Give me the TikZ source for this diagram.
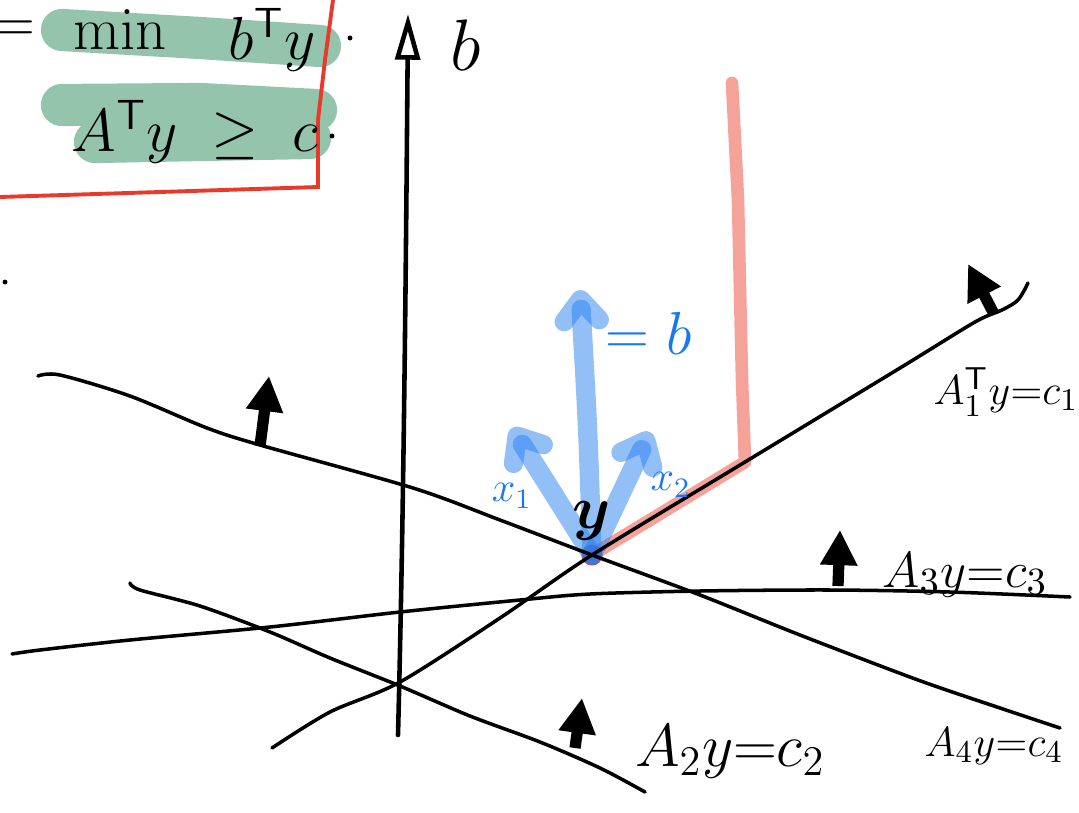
\documentclass[tikz,border=0pt]{standalone}
\usepackage{amsmath,amssymb}
\usepackage{tikz}
\usetikzlibrary{positioning,arrows.meta}

\definecolor{hlgreen}{RGB}{148,196,172}
\definecolor{boxred}{RGB}{232,57,42}
\definecolor{pathred}{RGB}{238,100,88}
\definecolor{vecblue}{RGB}{40,128,240}
\definecolor{inkblue}{RGB}{25,120,240}

\begin{document}
\begin{tikzpicture}[x=0.01cm, y=-0.01cm, >=Latex,
  hand/.style={line width=1pt, line cap=round, line join=round},
  upnormal/.style={line width=3.2pt, -{Triangle[length=10pt, width=10pt]}},
  vecarr/.style={draw=vecblue, draw opacity=0.5, line width=5.5pt, line cap=round,
                 -{Straight Barb[round, length=6pt, width=10pt]}},
  hilite/.style={draw=hlgreen, line width=12pt, line cap=round},
  lbl/.style={inner sep=0pt, font=\fontsize{17}{20}\selectfont},
  bluelbl/.style={inner sep=0pt, text=inkblue, font=\fontsize{12}{14}\selectfont}]
  \useasboundingbox (0,0) rectangle (1079,812);

  % dual problem in the red box
  \draw[hilite] (62,30) -- (200,38) -- (320,46);
  \draw[hilite] (62,105) -- (200,104) -- (316,110);
  \draw[hilite] (95,142) -- (200,140) -- (310,138);
  \draw[boxred, line width=1.1pt] (0,197) -- (160,192) -- (318,187)
    -- (318,120) -- (325,60) -- (333,0);
  \node (eq)   [lbl] at (13,32) {$=$};
  \node (mn)   [lbl] at (120,30) {$\min$};
  \node (obj)  [lbl] at (272,40) {$b^{\mathsf T}y$};
  \node (cons) [lbl] at (195,132) {$A^{\mathsf T}y\;\geq\;c$};
  \fill (350,38) circle (0.7pt);
  \fill (332,136) circle (0.7pt);
  \fill (5,282) circle (0.7pt);

  \coordinate (ypt) at (592,555);
  \coordinate (kink) at (745,462);
  \coordinate (ptop) at (732,83);
  \coordinate (xonetip) at (512,428);
  \coordinate (btip) at (580,290);
  \coordinate (xtwotip) at (650,432);
  \coordinate (axbot) at (398,735);
  \coordinate (axtop) at (408,14);

  % path to the top, and the vectors at y
  \draw[pathred, draw opacity=0.6, line width=3.6pt, line cap=round, line join=round]
    (ypt) -- (650,520) -- (kink) -- (742,380) -- (738,200) -- (ptop);
  \fill[red!70!black, opacity=0.7] (ypt) circle (3pt);
  \draw[vecarr] (ypt) -- (xonetip);
  \draw[vecarr] (ypt) .. controls (588,430) .. (btip);
  \draw[vecarr] (ypt) -- (xtwotip);

  % axis b
  \draw[hand, line width=1.3pt, -{Triangle[open, length=13pt, width=7pt]}]
    (axbot) .. controls (404,500) and (406,250) .. (axtop);
  \node (blbl) [lbl, font=\fontsize{20}{24}\selectfont,
                below right=0.05cm and 0.42cm of axtop] {$b$};

  % the four constraint lines
  \draw[hand] plot[smooth] coordinates {(272,748) (330,712) (400,682) (500,618)
    (ypt) (kink) (900,368) (975,322) (1002,310) (1018,300) (1028,283)};
  \draw[hand] plot[smooth] coordinates {(130,583) (140,590) (200,606) (270,632)
    (330,658) (400,686) (470,716) (540,742) (600,768) (645,792)};
  \draw[hand] plot[smooth] coordinates {(12,654) (40,650) (130,640) (270,627)
    (400,612) (520,600) (590,594) (700,591) (830,590) (950,592) (1070,597)};
  \draw[hand] plot[smooth] coordinates {(38,376) (60,375) (130,396) (207,428)
    (260,445) (413,488) (500,520) (ypt) (700,595) (800,635) (918,680) (1000,708)
    (1060,728)};

  % normals of the constraints
  \draw[upnormal] (260,446) -- (269,376);
  \draw[upnormal] (575,748) -- (582,698);
  \draw[upnormal] (838,586) -- (840,530);
  \draw[upnormal] (994,314) -- (968,264);

  \node (aone)   [lbl, font=\fontsize{13}{16}\selectfont] at (1006,392)
    {$A_1^{\mathsf T}y{=}c_1$};
  \node (atwo)   [lbl] at (730,752) {$A_2y{=}c_2$};
  \node (athree) [lbl, font=\fontsize{15}{18}\selectfont] at (965,575)
    {$A_3y{=}c_3$};
  \node (afour)  [lbl, font=\fontsize{13}{16}\selectfont] at (994,746)
    {$A_4y{=}c_4$};

  \node (ylbl)    [lbl, font=\fontsize{19}{22}\selectfont, above=0.14cm of ypt]
    {$\boldsymbol{y}$};
  \node (xonelbl) [bluelbl, below=0.55cm of xonetip] {$x_1$};
  \node (xtwolbl) [bluelbl, below right=0.4cm and 0cm of xtwotip] {$x_2$};
  \node (blbl2)   [bluelbl, font=\fontsize{17}{20}\selectfont,
                   below right=0.22cm and 0.25cm of btip] {$=b$};
\end{tikzpicture}
\end{document}
